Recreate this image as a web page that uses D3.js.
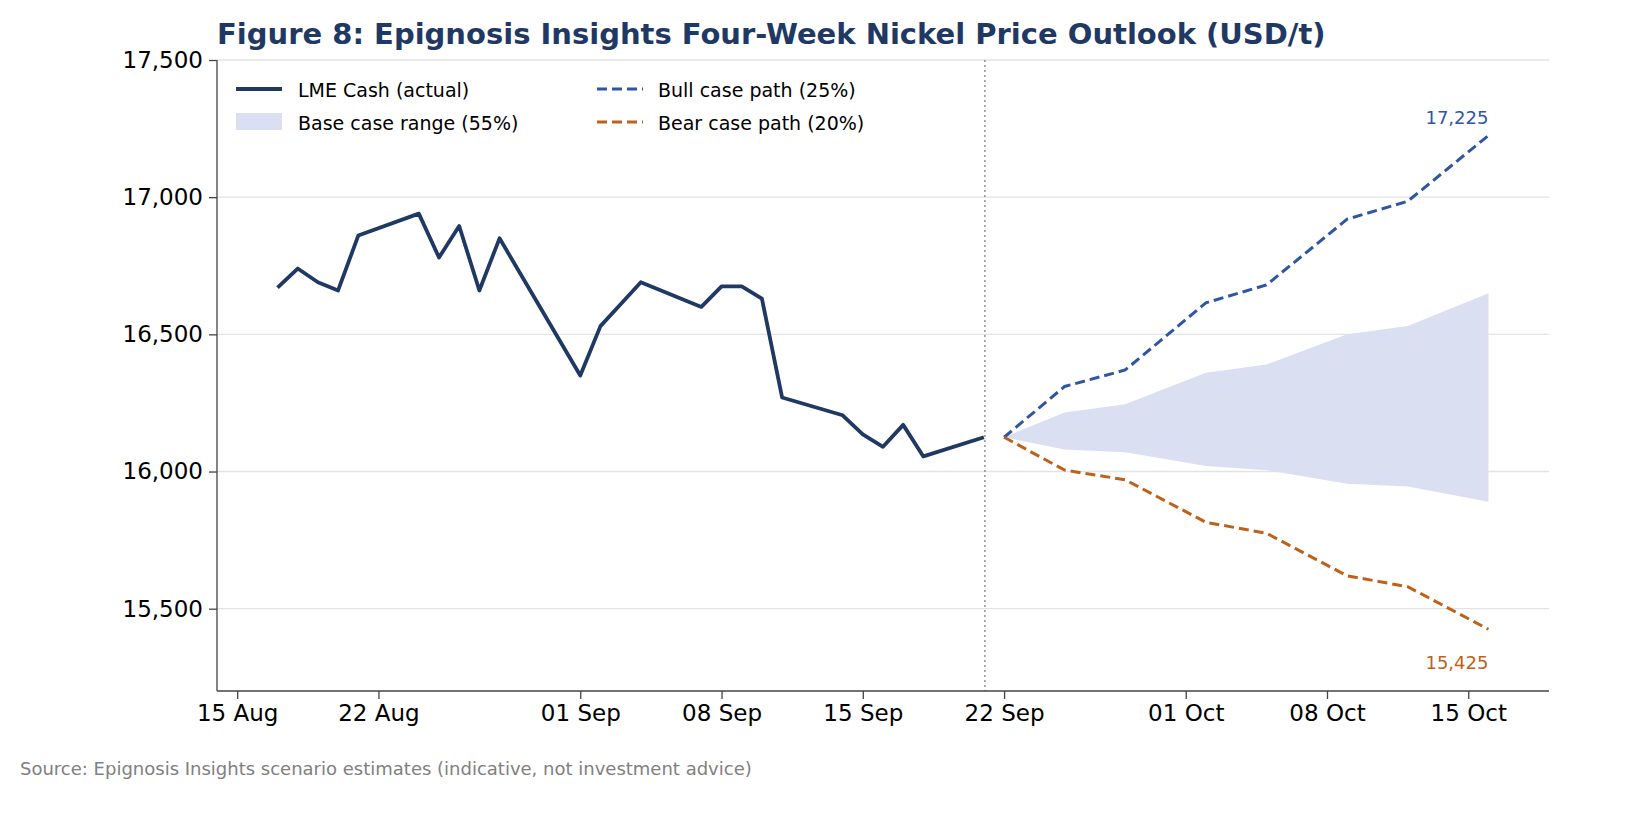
<!DOCTYPE html><html><head><meta charset="utf-8"><script src="https://cdn.jsdelivr.net/npm/d3@7"></script>
<style>html,body{margin:0;padding:0;overflow:hidden;background:#fff;font-family:"DejaVu Sans",sans-serif}svg{display:block}</style></head><body><svg id="c" width="1641" height="834"></svg>
<script>
const actualDates=["2020-08-17","2020-08-18","2020-08-19","2020-08-20","2020-08-21","2020-08-24","2020-08-25","2020-08-26","2020-08-27","2020-08-28","2020-09-01","2020-09-02","2020-09-03","2020-09-04","2020-09-07","2020-09-08","2020-09-09","2020-09-10","2020-09-11","2020-09-14","2020-09-15","2020-09-16","2020-09-17","2020-09-18","2020-09-21"];
const actualVals=[16670,16740,16690,16660,16860,16940,16780,16895,16660,16850,16350,16530,16610,16690,16600,16675,16675,16630,16270,16205,16135,16090,16170,16055,16125];
const fcDates=["2020-09-22","2020-09-25","2020-09-28","2020-10-02","2020-10-05","2020-10-09","2020-10-12","2020-10-16"];
const bullVals=[16125,16310,16370,16615,16680,16920,16985,17225];
const baseHi=[16125,16215,16245,16360,16390,16500,16530,16650];
const baseLo=[16125,16080,16070,16020,16005,15955,15945,15890];
const bearVals=[16125,16005,15970,15815,15775,15620,15580,15425];
const tickDates=["2020-08-15","2020-08-22","2020-09-01","2020-09-08","2020-09-15","2020-09-22","2020-10-01","2020-10-08","2020-10-15"];
const yTicks=[15500,16000,16500,17000,17500];
const p=d3.timeParse("%Y-%m-%d");
const svg=d3.select("#c");
const L=217,R=1549,T=60,B=691;
const x=d3.scaleTime().domain([p("2020-08-14"),p("2020-10-19")]).range([L,R]);
const y=d3.scaleLinear().domain([15200,17500]).range([B,T]);
svg.append("g").selectAll("line").data(yTicks).join("line").attr("x1",L).attr("x2",R).attr("y1",d=>y(d)).attr("y2",d=>y(d)).attr("stroke","#e3e3e3").attr("stroke-width",1.3);
const fc=fcDates.map(p);
svg.append("path").datum(fc.map((d,i)=>[d,baseLo[i],baseHi[i]])).attr("fill","#dae0f2")
 .attr("d",d3.area().x(d=>x(d[0])).y0(d=>y(d[1])).y1(d=>y(d[2])));
svg.append("line").attr("x1",x(p("2020-09-21"))+1).attr("x2",x(p("2020-09-21"))+1).attr("y1",T).attr("y2",B).attr("stroke","#777").attr("stroke-dasharray","2,3").attr("stroke-width",1.2);
const ln=d3.line().x(d=>x(d[0])).y(d=>y(d[1]));
svg.append("path").datum(actualDates.map((d,i)=>[p(d),actualVals[i]])).attr("d",ln).attr("fill","none").attr("stroke","#1f3864").attr("stroke-width",3.8).attr("stroke-linejoin","round");
svg.append("path").datum(fc.map((d,i)=>[d,bullVals[i]])).attr("d",ln).attr("fill","none").attr("stroke","#2f55a4").attr("stroke-width",3).attr("stroke-dasharray","10,5");
svg.append("path").datum(fc.map((d,i)=>[d,bearVals[i]])).attr("d",ln).attr("fill","none").attr("stroke","#c0611a").attr("stroke-width",3).attr("stroke-dasharray","10,5");
const last=fc[fc.length-1];
svg.append("text").attr("x",x(last)).attr("y",y(17225)-11).attr("text-anchor","end").attr("font-size",18).attr("fill","#2f55a4").text("17,225");
svg.append("text").attr("x",x(last)).attr("y",y(15425)+40).attr("text-anchor","end").attr("font-size",18).attr("fill","#c0611a").text("15,425");
const ya=svg.append("g").attr("transform",`translate(${L},0)`).call(d3.axisLeft(y).tickValues(yTicks).tickFormat(d3.format(",")).tickSize(8).tickPadding(6));
const xa=svg.append("g").attr("transform",`translate(0,${B})`).call(d3.axisBottom(x).tickValues(tickDates.map(p)).tickFormat(d3.timeFormat("%d %b")).tickSize(8).tickPadding(6));
[ya,xa].forEach(a=>{a.selectAll("text").attr("font-size",23).attr("fill","#000").attr("font-family","DejaVu Sans");a.selectAll("line,path").attr("stroke","#444").attr("stroke-width",1.3);});
ya.select(".domain").attr("d",`M0,${B}V${T}`);
xa.select(".domain").attr("d",`M${L},0H${R}`);
const lg=svg.append("g").attr("font-size",19);
lg.append("line").attr("x1",236).attr("x2",282).attr("y1",89).attr("y2",89).attr("stroke","#1f3864").attr("stroke-width",3.8);
lg.append("text").attr("x",298).attr("y",97).text("LME Cash (actual)");
lg.append("rect").attr("x",236).attr("y",113).attr("width",46).attr("height",17).attr("fill","#dae0f2");
lg.append("text").attr("x",298).attr("y",130).text("Base case range (55%)");
lg.append("line").attr("x1",597).attr("x2",643).attr("y1",89).attr("y2",89).attr("stroke","#2f55a4").attr("stroke-width",3).attr("stroke-dasharray","10,5");
lg.append("text").attr("x",658).attr("y",97).text("Bull case path (25%)");
lg.append("line").attr("x1",597).attr("x2",643).attr("y1",122).attr("y2",122).attr("stroke","#c0611a").attr("stroke-width",3).attr("stroke-dasharray","10,5");
lg.append("text").attr("x",658).attr("y",130).text("Bear case path (20%)");
svg.append("text").attr("x",217).attr("y",44).attr("font-size",29).attr("font-weight","bold").attr("fill","#1f3864").text("Figure 8: Epignosis Insights Four-Week Nickel Price Outlook (USD/t)");
svg.append("text").attr("x",20).attr("y",775).attr("font-size",18).attr("fill","#808080").text("Source: Epignosis Insights scenario estimates (indicative, not investment advice)");
</script></body></html>
